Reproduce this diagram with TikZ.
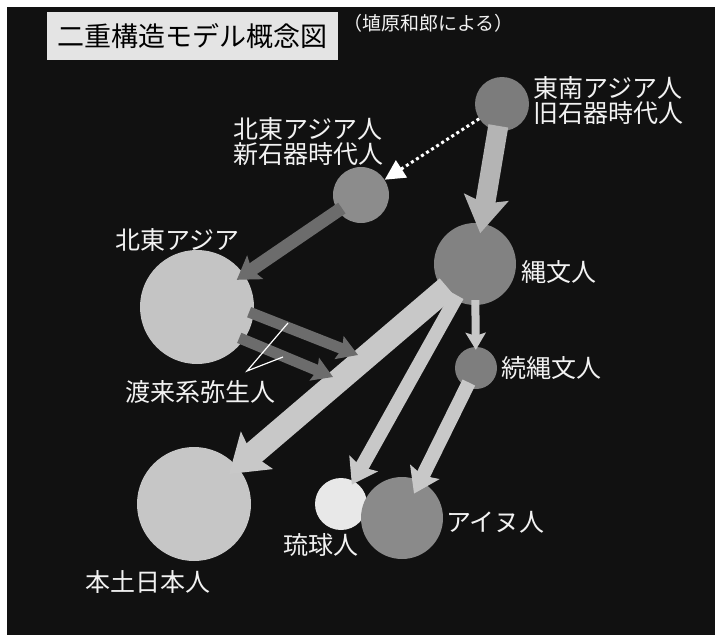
\documentclass[tikz,border=0pt]{standalone}
\usepackage{fontspec}
\setmainfont{Noto Sans CJK JP}
\usetikzlibrary{arrows.meta}
\definecolor{bg}{HTML}{111111}
\definecolor{titlebg}{HTML}{E4E4E4}
\definecolor{txt}{HTML}{F2F2F2}
\definecolor{cSea}{HTML}{7C7C7C}
\definecolor{cNea}{HTML}{8C8C8C}
\definecolor{cNas}{HTML}{C4C4C4}
\definecolor{cJom}{HTML}{828282}
\definecolor{cZok}{HTML}{7E7E7E}
\definecolor{cHon}{HTML}{C6C6C6}
\definecolor{cRyu}{HTML}{E8E8E8}
\definecolor{cAin}{HTML}{8A8A8A}
\definecolor{aLight}{HTML}{B4B4B4}
\definecolor{aPale}{HTML}{C8C8C8}
\definecolor{aDark}{HTML}{6C6C6C}
\begin{document}
\begin{tikzpicture}[x=1pt,y=-1pt,
  ball/.style={circle, inner sep=0pt, draw=none},
  lab/.style={text=txt, font=\fontsize{25}{25}\selectfont, inner sep=0pt, anchor=west, align=left},
  flow/.style={draw=#1, shorten <=-5pt},
  ]
\useasboundingbox (0,0) rectangle (715,635);
\fill[white] (0,0) rectangle (715,635);
\fill[bg] (7,7) rectangle (715,635);

% title
\node[fill=titlebg, minimum width=291pt, minimum height=48pt, inner sep=0pt,
      font=\fontsize{27}{27}\selectfont, text=black] (title) at (192.5,36) {二重構造モデル概念図};
\node[anchor=west, text=txt, font=\fontsize{19}{19}\selectfont, inner sep=0pt] (sub) at (343,23) {（埴原和郎による）};

% circles
\node[ball, fill=cSea, minimum size=54pt] (sea) at (502,104) {};
\node[ball, fill=cNea, minimum size=56pt] (nea) at (361,195) {};
\node[ball, fill=cNas, minimum size=114pt] (nas) at (197,307) {};
\node[ball, fill=cJom, minimum size=82pt] (jom) at (475,264) {};
\node[ball, fill=cZok, minimum size=42pt] (zok) at (476,368) {};
\node[ball, fill=cHon, minimum size=114pt] (hon) at (194,504) {};
\node[ball, fill=cRyu, minimum size=52pt] (ryu) at (341,504) {};
\node[ball, fill=cAin, minimum size=82pt] (ain) at (402,518) {};

% labels
\node[lab] (lSea) at (533,100.5) {東南アジア人\\旧石器時代人};
\node[lab] (lNea) at (233,142) {北東アジア人\\新石器時代人};
\node[lab] (lNas) at (115,240) {北東アジア};
\node[lab] (lJom) at (521,272) {縄文人};
\node[lab] (lZok) at (501,368) {続縄文人};
\node[lab] (lTor) at (125,392) {渡来系弥生人};
\node[lab] (lHon) at (85,582) {本土日本人};
\node[lab] (lRyu) at (283,545) {琉球人};
\node[lab] (lAin) at (446,522) {アイヌ人};

% arrows
\draw[flow=aLight, line width=20pt, -{Stealth[length=36pt,width=44pt,inset=6pt]}, shorten >=-10pt] (sea) -- (jom);
\draw[flow=aPale, line width=8pt, -{Stealth[length=17pt,width=20pt,inset=3pt]}, shorten >=-3pt] (jom) -- (zok);
\draw[flow=aPale, line width=24pt, -{Stealth[length=36pt,width=48pt,inset=6pt]}, shorten >=-11pt] (jom) -- (hon);
\draw[flow=aPale, line width=14pt, -{Stealth[length=24pt,width=32pt,inset=4pt]}, shorten >=-4pt] (jom) -- (ryu);
\draw[flow=aPale, line width=14pt, -{Stealth[length=24pt,width=32pt,inset=4pt]}, shorten >=-14pt] (zok) -- (ain);
\draw[flow=aDark, line width=13pt, -{Stealth[length=22pt,width=28pt,inset=4pt]}, shorten >=-9pt] (nea) -- (nas);

\coordinate (t1) at (358,355);
\coordinate (t2) at (333,377);
\draw[flow=aDark, line width=11pt, -{Stealth[length=20pt,width=24pt,inset=3pt]}] (nas.-7) -- (t1);
\draw[flow=aDark, line width=11pt, -{Stealth[length=20pt,width=24pt,inset=3pt]}] (nas.-35) -- (t2);

\draw[white, line width=3pt, dash pattern=on 3pt off 3pt, -{Triangle[length=20pt,width=20pt]}] (sea) -- (nea);

% pointer lines
\coordinate (p0) at (247,371);
\coordinate (p1) at (288,323);
\coordinate (p2) at (283,357);
\draw[white, line width=1.2pt] (p1) -- (p0) -- (p2);
\end{tikzpicture}
\end{document}
